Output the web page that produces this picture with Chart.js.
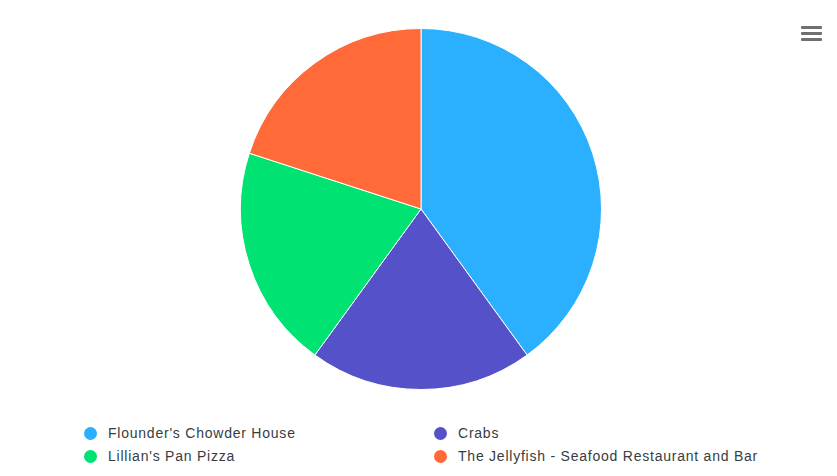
<!DOCTYPE html>
<html>
<head>
<meta charset="utf-8">
<script src="https://cdn.jsdelivr.net/npm/chart.js@4/dist/chart.umd.min.js"></script>
<style>
  html, body { margin: 0; padding: 0; background: #fff; }
  body { width: 837px; height: 476px; position: relative; overflow: hidden;
         font-family: "Liberation Sans", Arial, sans-serif; }
  #pieWrap { position: absolute; left: 240px; top: 28px; width: 362px; height: 362px; }
  #menu { position: absolute; left: 801px; top: 26px; width: 21px; }
  #menu span { display: block; height: 3px; background: #6f6f6f; margin-bottom: 3px; border-radius: 1px; }
  #legend { position: absolute; left: 84px; top: 424px; width: 740px;
            display: grid; grid-template-columns: 350px 390px; row-gap: 5px; }
  .item { display: flex; align-items: center; font-size: 14px; letter-spacing: 0.77px;
          color: #373d3f; height: 18px; }
  .dot { width: 13px; height: 13px; border-radius: 50%; margin-right: 11px; flex: none; }
</style>
</head>
<body>
<div id="pieWrap"><canvas id="pie"></canvas></div>
<div id="menu"><span></span><span></span><span></span></div>
<div id="legend"></div>
<script>
  var labels = [
    "Flounder's Chowder House",
    'Crabs',
    "Lillian's Pan Pizza",
    'The Jellyfish - Seafood Restaurant and Bar'
  ];
  var values = [40, 20, 20, 20];
  var colors = ['#2BAFFF', '#5451C9', '#00E272', '#FF6A38'];

  // legend is laid out as a two-column grid, so build it from the chart's own items
  var htmlLegend = {
    id: 'htmlLegend',
    afterUpdate: function (chart) {
      var box = document.getElementById('legend');
      box.innerHTML = '';
      chart.options.plugins.legend.labels.generateLabels(chart).forEach(function (item) {
        var row = document.createElement('div');
        row.className = 'item';
        var dot = document.createElement('span');
        dot.className = 'dot';
        dot.style.background = item.fillStyle;
        row.appendChild(dot);
        row.appendChild(document.createTextNode(item.text));
        box.appendChild(row);
      });
    }
  };

  new Chart(document.getElementById('pie'), {
    type: 'pie',
    data: {
      labels: labels,
      datasets: [{
        data: values,
        backgroundColor: colors,
        borderColor: '#ffffff',
        borderWidth: 1,
        hoverOffset: 0
      }]
    },
    options: {
      responsive: true,
      maintainAspectRatio: false,
      animation: false,
      layout: { padding: 0 },
      plugins: {
        legend: { display: false },
        tooltip: { enabled: false }
      }
    },
    plugins: [htmlLegend]
  });
</script>
</body>
</html>
